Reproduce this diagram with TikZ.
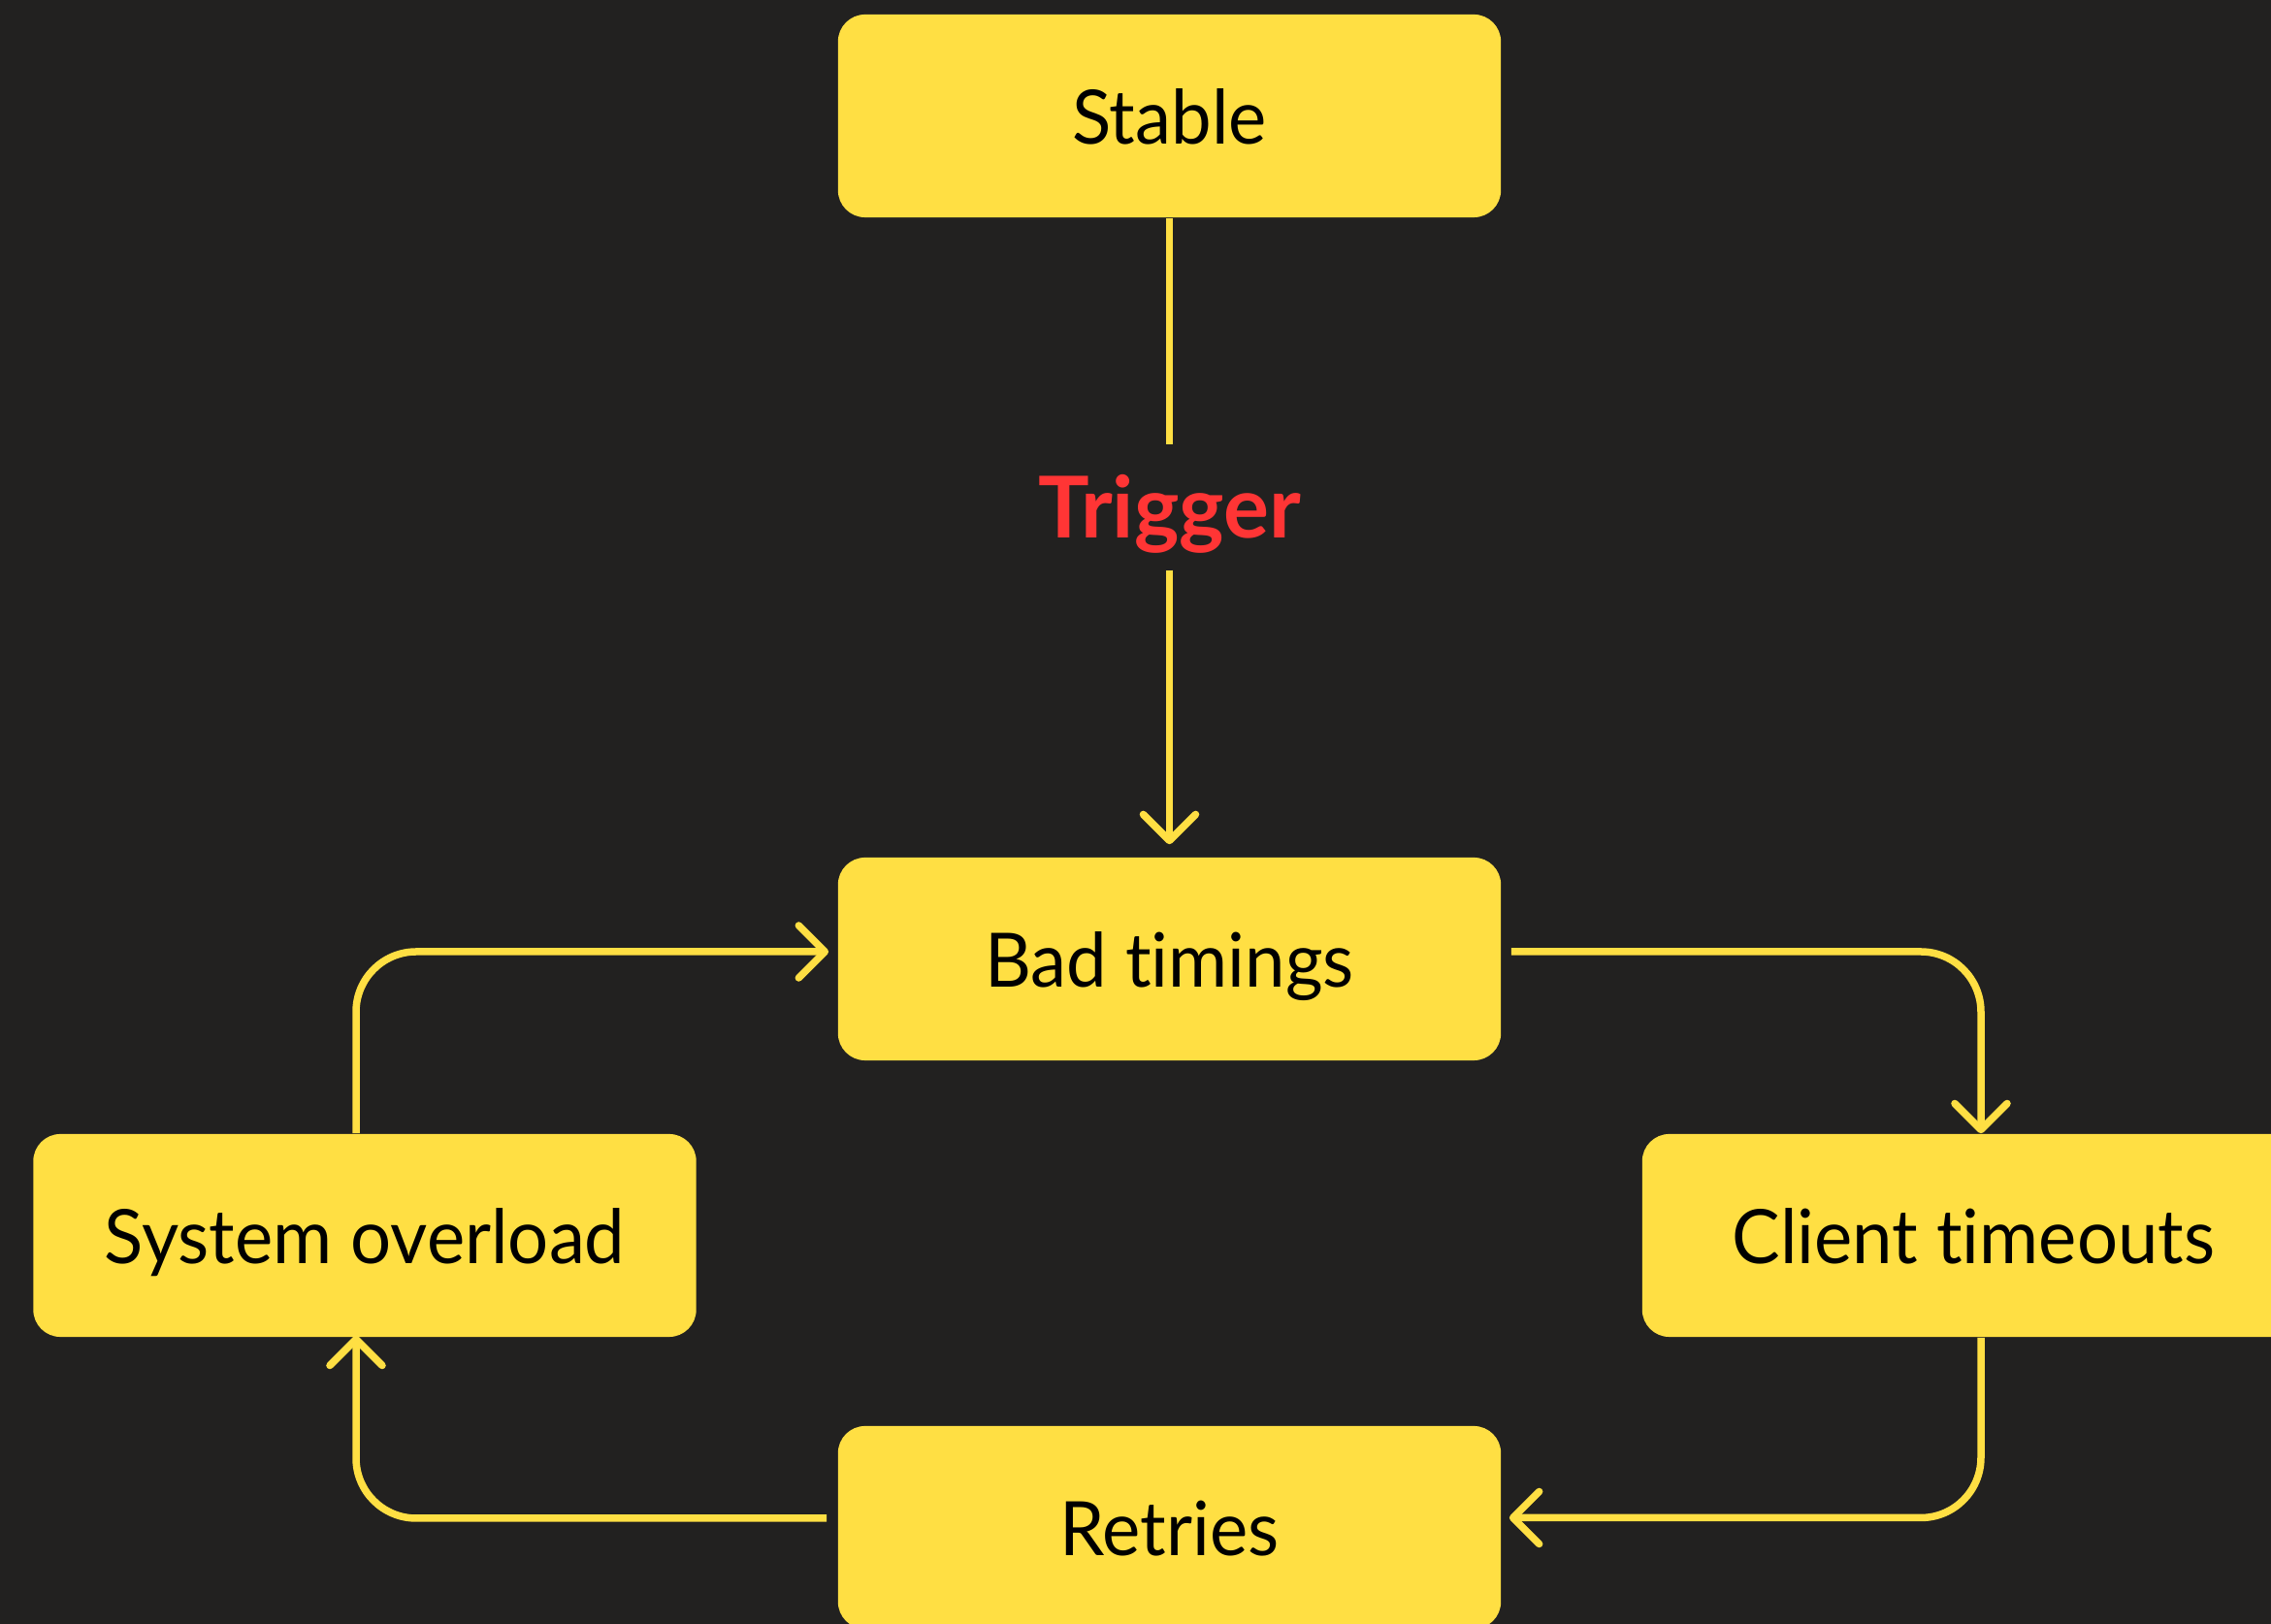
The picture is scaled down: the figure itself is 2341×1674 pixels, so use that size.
\documentclass[tikz,border=0pt]{standalone}
\usepackage{fontspec}
\setmainfont{Lato}[Ligatures=NoCommon]
\newfontfamily\boxfont{Lato}[FakeStretch=0.96, Ligatures=NoCommon]
\usetikzlibrary{arrows.meta,calc}
\definecolor{bgc}{HTML}{222120}
\definecolor{ylw}{HTML}{FFDF43}
\definecolor{trig}{HTML}{FF3535}
\tikzset{
  box/.style={fill=ylw, rounded corners=0.28cm, minimum width=6.83cm, minimum height=2.09cm,
    inner sep=0pt, text height=0.57cm, text depth=0cm, font=\boxfont\fontsize{22}{26}\selectfont, text=black},
  conn/.style={draw=ylw, line width=0.075cm},
  arr/.style={conn, -{Straight Barb[length=0.27cm, width=0.54cm, round]}},
  roundbend/.style={rounded corners=0.62cm}
}
\begin{document}
\begin{tikzpicture}[x=0.01cm, y=-0.01cm]
\fill[bgc] (0,0) rectangle (2341,1674);
\useasboundingbox (0,0) rectangle (2341,1674);
\clip (0,0) rectangle (2341,1674);
\node[box] (stable) at (1205.5,119.5) {Stable};
\node[box] (bad) at (1205.5,988.5) {Bad timings};
\node[box] (sys) at (376,1273.5) {System overload};
\node[box] (client) at (2034.5,1273.5) {Client timeouts};
\node[box] (retries) at (1205.5,1574.5) {Retries};
\node[text=trig, font=\fontsize{25}{30}\selectfont\bfseries, inner xsep=0pt, inner ysep=0.33cm,
  text height=0.62cm, text depth=0cm] (trigger) at (1205.5,523) {Trigger};
\draw[conn] (stable.south) -- (trigger.north);
\draw[arr, shorten >=0.13cm] (trigger.south) -- (bad.north);
\draw[arr, roundbend] ($(sys.north)+(-9,0)$) |- ($(bad.west)+(-9,-7.5)$);
\draw[arr, roundbend] ($(bad.east)+(10,-7.5)$) -| ($(client.north)+(7.5,0)$);
\draw[arr, roundbend] ($(client.south)+(7.5,0)$) |- ($(retries.east)+(8,-10)$);
\draw[arr, roundbend] ($(retries.west)+(-11,-9.5)$) -| ($(sys.south)+(-9,-2)$);
\end{tikzpicture}
\end{document}
